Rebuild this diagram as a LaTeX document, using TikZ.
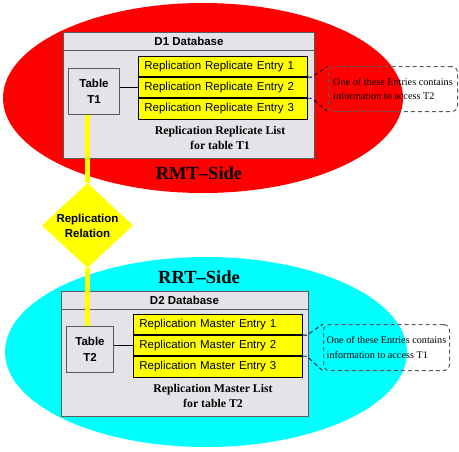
\documentclass[tikz,border=0pt]{standalone}
\usepackage{fontspec}
\setmainfont{Liberation Serif}
\setsansfont{Liberation Sans}
\usetikzlibrary{shapes.geometric}

\definecolor{dbgray}{RGB}{229,226,232}
\definecolor{boxgray}{RGB}{90,90,90}
\definecolor{rmtred}{RGB}{255,0,0}
\definecolor{rrtcyan}{RGB}{0,255,255}
\definecolor{relyellow}{RGB}{255,255,0}

\begin{document}
\begin{tikzpicture}[x=1pt,y=-1pt,
    side/.style={ellipse,inner sep=0pt},
    sidelabel/.style={font=\bfseries\fontsize{18.5}{20}\selectfont},
    dbbox/.style={draw=boxgray,fill=dbgray,line width=1pt,anchor=north west,inner sep=0pt},
    dbtitle/.style={font=\sffamily\bfseries\fontsize{11.5}{13}\selectfont},
    tablebox/.style={draw=boxgray,fill=dbgray,line width=1pt,anchor=north west,inner sep=0pt,
      align=center,font=\sffamily\bfseries\fontsize{11.5}{16.5}\selectfont},
    entry/.style={draw=black,fill=relyellow,line width=0.8pt,inner xsep=6pt,inner ysep=0pt,
      text width=157pt,minimum height=20.3pt,align=left,font=\sffamily\fontsize{11.5}{13}\selectfont},
    listcap/.style={align=center,font=\bfseries\fontsize{11.8}{15}\selectfont},
    note/.style={draw=boxgray,line width=1pt,dash pattern=on 4pt off 3pt,rounded corners=6pt,
      anchor=north west,inner sep=0pt,align=left,font=\fontsize{10.2}{14.3}\selectfont},
    callout/.style={draw=black,line width=0.8pt,dash pattern=on 4pt off 3pt},
    relation/.style={draw=relyellow,line width=4.5pt}]
  \useasboundingbox (0,0) rectangle (459,451);

  \node[side,fill=rmtred,minimum width=400pt,minimum height=190pt] (rmt) at (203,98) {};
  \node[side,fill=rrtcyan,minimum width=402pt,minimum height=190pt] (rrt) at (206,352) {};
  \node[sidelabel] (rmtlabel) at (199,173) {RMT--Side};
  \node[sidelabel] (rrtlabel) at (199,277) {RRT--Side};

  \node[dbbox,minimum width=251pt,minimum height=126pt] (d1) at (63,32) {};
  \draw[boxgray,line width=1pt] ([yshift=-18pt]d1.north west) -- ([yshift=-18pt]d1.north east);
  \node[dbtitle] (d1title) at (189,41) {D1 Database};
  \node[tablebox,minimum width=51pt,minimum height=46pt] (t1) at (68,68) {Table\\T1};
  \node[entry,anchor=north west] (e11) at (138,56) {Replication Replicate Entry 1};
  \node[entry,anchor=north] (e12) at (e11.south) {Replication Replicate Entry 2};
  \node[entry,anchor=north] (e13) at (e12.south) {Replication Replicate Entry 3};
  \node[listcap] (l1) at (220,138) {Replication Replicate List\\for table T1};
  \node[note,minimum width=129pt,minimum height=45pt] (n1) at (328,66)
    {One of these Entries contains\\information to access T2};
  \draw[line width=0.8pt] (t1.east |- e12.west) -- (e12.west);
  \draw[callout] (e11.south east) -- ++(4,0) -- (n1.north west);
  \draw[callout] (e12.south east) -- ++(4,0) -- (n1.south west);

  \node[dbbox,minimum width=247pt,minimum height=125pt] (d2) at (61,291) {};
  \draw[boxgray,line width=1pt] ([yshift=-18pt]d2.north west) -- ([yshift=-18pt]d2.north east);
  \node[dbtitle] (d2title) at (184.5,300) {D2 Database};
  \node[tablebox,minimum width=47pt,minimum height=46pt] (t2) at (66,326) {Table\\T2};
  \node[entry,anchor=north west] (e21) at (133,314) {Replication Master Entry 1};
  \node[entry,anchor=north] (e22) at (e21.south) {Replication Master Entry 2};
  \node[entry,anchor=north] (e23) at (e22.south) {Replication Master Entry 3};
  \node[listcap] (l2) at (213,396) {Replication Master List\\for table T2};
  \node[note,minimum width=126pt,minimum height=46pt] (n2) at (323,324)
    {One of these Entries contains\\information to access T1};
  \draw[line width=0.8pt] (t2.east |- e22.west) -- (e22.west);
  \draw[callout] (e21.south east) -- ++(4,0) -- (n2.north west);
  \draw[callout] (e22.south east) -- ++(4,0) -- (n2.south west);

  \node[diamond,fill=relyellow,inner sep=0pt,aspect=1.07,minimum width=91pt,minimum height=85pt,
    align=center,font=\sffamily\bfseries\fontsize{11.5}{15}\selectfont] (rel) at (87.5,225.5)
    {Replication\\Relation};
  \draw[relation] (rel.north |- t1.south) -- (rel.north);
  \draw[relation] (rel.south) -- (rel.south |- t2.north);
\end{tikzpicture}
\end{document}
